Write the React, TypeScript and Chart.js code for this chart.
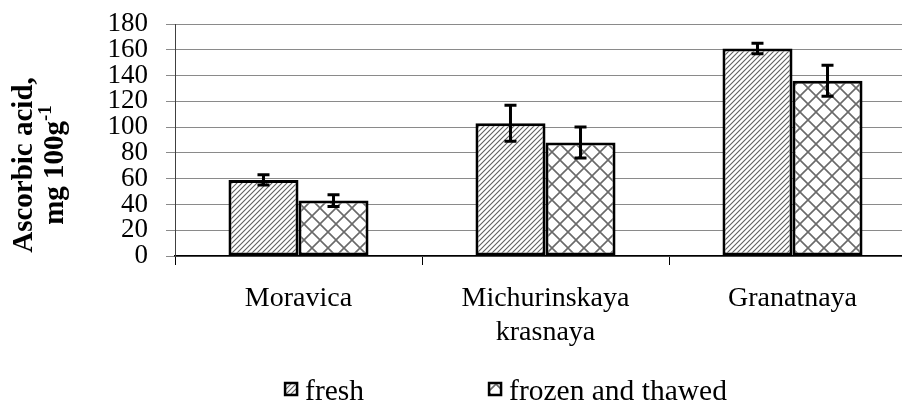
import React, { useEffect, useRef } from 'react';
import { Chart, registerables } from 'chart.js';

Chart.register(...registerables);

const categories: string[][] = [['Moravica'], ['Michurinskaya', 'krasnaya'], ['Granatnaya']];
const seriesNames = ['fresh', 'frozen and thawed'];
const freshValues = [59, 103, 161];
const freshErrors = [4, 14, 4];
const frozenValues = [43, 88, 136];
const frozenErrors = [4.5, 12, 12];
const yMin = 0;
const yMax = 180;
const yStep = 20;
const yTitleLine1 = 'Ascorbic acid,';
const yTitleLine2 = 'mg 100g';
const yTitleSup = '-1';

const FONT = "'Liberation Serif', 'Times New Roman', serif";

function makeHatch(): CanvasPattern | string {
  const s = 5;
  const c = document.createElement('canvas');
  c.width = s;
  c.height = s;
  const g = c.getContext('2d');
  if (!g) return '#aaa';
  g.fillStyle = '#ffffff';
  g.fillRect(0, 0, s, s);
  g.strokeStyle = '#606060';
  g.lineWidth = 1.1;
  g.beginPath();
  g.moveTo(-1, s + 1);
  g.lineTo(s + 1, -1);
  g.moveTo(-2, 2);
  g.lineTo(2, -2);
  g.moveTo(s - 2, s + 2);
  g.lineTo(s + 2, s - 2);
  g.stroke();
  return g.createPattern(c, 'repeat') || '#aaa';
}

function makeCross(): CanvasPattern | string {
  const s = 16;
  const c = document.createElement('canvas');
  c.width = s;
  c.height = s;
  const g = c.getContext('2d');
  if (!g) return '#ccc';
  g.fillStyle = '#ffffff';
  g.fillRect(0, 0, s, s);
  g.strokeStyle = '#6a6a6a';
  g.lineWidth = 1.6;
  g.beginPath();
  g.moveTo(-1, -1);
  g.lineTo(s + 1, s + 1);
  g.moveTo(-1, s + 1);
  g.lineTo(s + 1, -1);
  g.stroke();
  return g.createPattern(c, 'repeat') || '#ccc';
}

const errorBarPlugin = {
  id: 'errorBars',
  afterDatasetsDraw(chart: any) {
    const ctx = chart.ctx;
    const yScale = chart.scales.y;
    const errs = [freshErrors, frozenErrors];
    const vals = [freshValues, frozenValues];
    ctx.save();
    ctx.strokeStyle = '#000';
    ctx.lineWidth = 3;
    chart.data.datasets.forEach((_ds: any, i: number) => {
      const meta = chart.getDatasetMeta(i);
      meta.data.forEach((el: any, j: number) => {
        const v = vals[i][j];
        const e = errs[i][j];
        const x = el.x;
        const yt = yScale.getPixelForValue(v + e);
        const yb = yScale.getPixelForValue(v - e);
        const cap = 6;
        ctx.beginPath();
        ctx.moveTo(x, yt);
        ctx.lineTo(x, yb);
        ctx.moveTo(x - cap, yt);
        ctx.lineTo(x + cap, yt);
        ctx.moveTo(x - cap, yb);
        ctx.lineTo(x + cap, yb);
        ctx.stroke();
      });
    });
    ctx.restore();
  },
};

const yTitlePlugin = {
  id: 'yTitle',
  afterDraw(chart: any) {
    const ctx = chart.ctx;
    const area = chart.chartArea;
    const cy = (area.top + area.bottom) / 2 + 25;
    ctx.save();
    ctx.fillStyle = '#000';
    ctx.textBaseline = 'alphabetic';
    ctx.textAlign = 'center';
    ctx.translate(0, cy);
    ctx.rotate(-Math.PI / 2);
    ctx.font = `bold 29px ${FONT}`;
    ctx.fillText(yTitleLine1, 0, 32);
    const w2 = ctx.measureText(yTitleLine2).width;
    ctx.font = `bold 19px ${FONT}`;
    const ws = ctx.measureText(yTitleSup).width;
    const start = -(w2 + ws) / 2;
    ctx.textAlign = 'left';
    ctx.font = `bold 29px ${FONT}`;
    ctx.fillText(yTitleLine2, start, 63);
    ctx.font = `bold 19px ${FONT}`;
    ctx.fillText(yTitleSup, start + w2, 51);
    ctx.restore();
  },
};

const legendPlugin = {
  id: 'customLegend',
  afterDraw(chart: any) {
    const ctx = chart.ctx;
    const fills = chart.data.datasets.map((d: any) => d.backgroundColor);
    const box = 12;
    const gapText = 8;
    const gapItem = 125;
    const centerX = 506;
    const baseline = chart.height - 3;
    ctx.save();
    ctx.font = `29.5px ${FONT}`;
    const widths = seriesNames.map((n) => ctx.measureText(n).width);
    const total = widths.reduce((a, w) => a + box + gapText + w, 0) + gapItem * (seriesNames.length - 1);
    let x = centerX - total / 2;
    seriesNames.forEach((name, i) => {
      const by = baseline - 17;
      ctx.fillStyle = fills[i];
      ctx.fillRect(x, by, box, box);
      ctx.strokeStyle = '#000';
      ctx.lineWidth = 2.5;
      ctx.strokeRect(x, by, box, box);
      ctx.fillStyle = '#000';
      ctx.textAlign = 'left';
      ctx.textBaseline = 'alphabetic';
      ctx.fillText(name, x + box + gapText, baseline);
      x += box + gapText + widths[i] + gapItem;
    });
    ctx.restore();
  },
};

export default function App() {
  const ref = useRef<HTMLCanvasElement | null>(null);
  useEffect(() => {
    if (!ref.current) return;
    const hatch = makeHatch();
    const cross = makeCross();
    const chart = new Chart(ref.current, {
      type: 'bar',
      data: {
        labels: categories,
        datasets: [
          {
            label: seriesNames[0],
            data: freshValues,
            backgroundColor: hatch as any,
            borderColor: '#000',
            borderWidth: 3,
            borderSkipped: false,
            categoryPercentage: 0.567,
            barPercentage: 1,
          },
          {
            label: seriesNames[1],
            data: frozenValues,
            backgroundColor: cross as any,
            borderColor: '#000',
            borderWidth: 3,
            borderSkipped: false,
            categoryPercentage: 0.567,
            barPercentage: 1,
          },
        ],
      },
      options: {
        responsive: false,
        maintainAspectRatio: false,
        animation: false,
        layout: { padding: { top: 24, right: 14, bottom: 0, left: 0 } },
        plugins: {
          legend: { display: false },
          tooltip: { enabled: false },
        },
        scales: {
          x: {
            grid: {
              display: true,
              drawOnChartArea: false,
              drawTicks: true,
              tickLength: 9,
              color: '#000',
              offset: true,
            },
            border: { color: '#000', width: 1.5 },
            ticks: {
              color: '#000',
              font: { family: FONT, size: 28, lineHeight: 1.2 },
              padding: 17,
              maxRotation: 0,
              autoSkip: false,
            },
            afterFit(scale: any) {
              scale.height = 147;
              scale.paddingLeft = 0;
              scale.paddingRight = 0;
            },
          },
          y: {
            min: yMin,
            max: yMax,
            grid: { color: '#8a8a8a', lineWidth: 1, tickLength: 9, drawTicks: true },
            border: { color: '#404040', width: 1 },
            ticks: {
              stepSize: yStep,
              autoSkip: false,
              color: '#000',
              font: { family: FONT, size: 27, lineHeight: 1 },
              padding: 18,
            },
            afterFit(scale: any) {
              scale.width = 175;
              scale.paddingTop = 0;
              scale.paddingBottom = 0;
            },
          },
        },
      },
      plugins: [errorBarPlugin, yTitlePlugin, legendPlugin],
    });
    return () => chart.destroy();
  }, []);
  return (
    <div style={{ position: 'absolute', left: 0, top: 0, width: 902, height: 403, overflow: 'hidden', background: '#fff' }}>
      <canvas ref={ref} width={930} height={403} style={{ display: 'block' }} />
    </div>
  );
}
